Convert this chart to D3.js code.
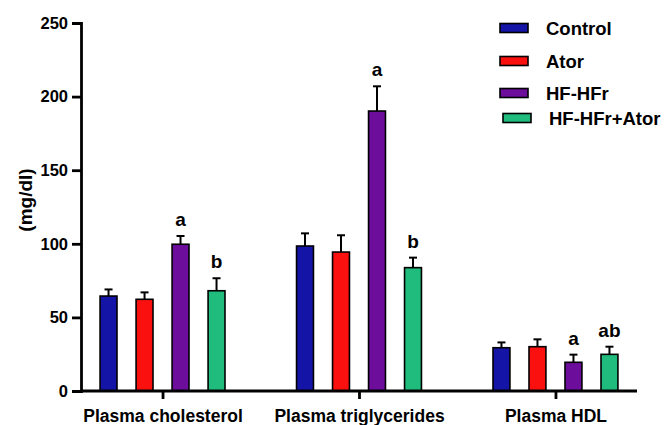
<!DOCTYPE html>
<html>
<head>
<meta charset="utf-8">
<script src="https://cdn.jsdelivr.net/npm/d3@7"></script>
<style>
  body { margin: 0; background: #fff; }
  text { font-family: "Liberation Sans", Arial, sans-serif; font-weight: bold; }
</style>
</head>
<body>
<div id="chart"></div>
<script>
// data
const categories = ["Plasma cholesterol", "Plasma triglycerides", "Plasma HDL"];
const groups = ["Control", "Ator", "HF-HFr", "HF-HFr+Ator"];
const colors = ["#1414a6", "#fb1010", "#6c0d9c", "#1fbc7e"];
const control = [64.5, 98.5, 29.4];
const ator = [62.3, 94.4, 30.1];
const hfhfr = [99.7, 190.2, 19.5];
const hfhfrAtor = [68.1, 83.8, 24.9];
const controlErr = [4.5, 8.6, 3.6];
const atorErr = [4.7, 11.4, 5.0];
const hfhfrErr = [5.6, 16.8, 5.2];
const hfhfrAtorErr = [8.5, 6.8, 5.2];
const letters = [["", "", "a", "b"], ["", "", "a", "b"], ["", "", "a", "ab"]];
const yTicks = [0, 50, 100, 150, 200, 250];

const series = [control, ator, hfhfr, hfhfrAtor];
const errors = [controlErr, atorErr, hfhfrErr, hfhfrAtorErr];

const width = 664, height = 425;
const svg = d3.select("#chart").append("svg")
  .attr("width", width).attr("height", height);

const x0 = d3.scalePoint().domain(categories).range([81, 637]).padding(0.415);
const x1 = d3.scaleBand().domain(groups).range([-72, 72])
  .paddingInner(0.53).paddingOuter(0.265);
const y = d3.scaleLinear().domain([0, 250]).range([391, 23]);

const rows = [];
categories.forEach((c, ci) => {
  groups.forEach((g, gi) => {
    rows.push({ cat: c, group: g, gi: gi, value: series[gi][ci], err: errors[gi][ci], letter: letters[ci][gi] });
  });
});

// bars
const bw = x1.bandwidth();
svg.append("g").selectAll("rect").data(rows).enter().append("rect")
  .attr("x", d => x0(d.cat) + x1(d.group))
  .attr("y", d => y(d.value))
  .attr("width", bw)
  .attr("height", d => y(0) - y(d.value))
  .attr("fill", d => colors[d.gi])
  .attr("stroke", "#000")
  .attr("stroke-width", 1.6);

// error bars (upper only)
const eb = svg.append("g").attr("stroke", "#000").attr("stroke-width", 2);
eb.selectAll(".stem").data(rows).enter().append("line")
  .attr("x1", d => x0(d.cat) + x1(d.group) + bw / 2)
  .attr("x2", d => x0(d.cat) + x1(d.group) + bw / 2)
  .attr("y1", d => y(d.value))
  .attr("y2", d => y(d.value + d.err));
eb.selectAll(".cap").data(rows).enter().append("line")
  .attr("x1", d => x0(d.cat) + x1(d.group) + bw / 2 - 4)
  .attr("x2", d => x0(d.cat) + x1(d.group) + bw / 2 + 4)
  .attr("y1", d => y(d.value + d.err))
  .attr("y2", d => y(d.value + d.err));

// significance letters
svg.append("g").selectAll("text").data(rows.filter(d => d.letter)).enter().append("text")
  .attr("x", d => x0(d.cat) + x1(d.group) + bw / 2)
  .attr("y", d => y(d.value + d.err) - 10)
  .attr("text-anchor", "middle")
  .style("font-size", "19px")
  .text(d => d.letter);

// axes
const yAxis = svg.append("g").attr("transform", "translate(81,0)")
  .call(d3.axisLeft(y).tickValues(yTicks).tickSize(9).tickPadding(4));
const xAxis = svg.append("g").attr("transform", `translate(0,${y(0)})`)
  .call(d3.axisBottom(x0).tickSize(8).tickPadding(11));
[yAxis, xAxis].forEach(a => {
  a.select(".domain").attr("stroke-width", 2.8);
  a.selectAll(".tick line").attr("stroke-width", 2.8);
  a.selectAll("text").attr("fill", "#000").attr("font-family", "Liberation Sans, Arial, sans-serif");
});
yAxis.selectAll("text").style("font-size", "16.5px");
xAxis.selectAll("text").style("font-size", "17.5px");
xAxis.select(".domain").attr("d", "M81,0H637");

// y title
svg.append("text")
  .attr("transform", "translate(32,200) rotate(-90)")
  .attr("text-anchor", "middle")
  .style("font-size", "19px")
  .text("(mg/dl)");

// legend
const legendY = [28, 61, 93, 118];
const legendX = [500, 500, 500, 503];
const legend = svg.append("g").selectAll("g").data(groups).enter().append("g")
  .attr("transform", (d, i) => `translate(${legendX[i]},${legendY[i]})`);
legend.append("rect")
  .attr("x", 0).attr("y", -4.5).attr("width", 28).attr("height", 9)
  .attr("fill", (d, i) => colors[i]).attr("stroke", "#000").attr("stroke-width", 1.6);
legend.append("text")
  .attr("x", 46).attr("y", 7)
  .style("font-size", "18.5px")
  .text(d => d);
</script>
</body>
</html>
